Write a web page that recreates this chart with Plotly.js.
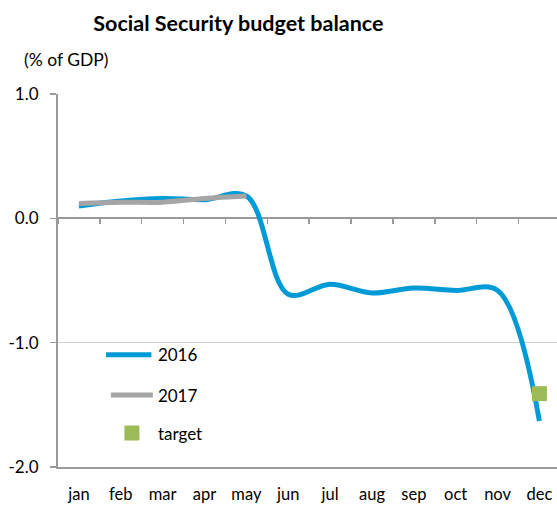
<!DOCTYPE html>
<html>
<head>
<meta charset="utf-8">
<script src="https://cdn.plot.ly/plotly-3.0.1.min.js"></script>
<style>html,body{margin:0;padding:0;background:#fff;overflow:hidden}#chart{width:557px;height:506px}</style>
</head>
<body>
<div id="chart"></div>
<script>
var months = ["jan","feb","mar","apr","may","jun","jul","aug","sep","oct","nov","dec"];
var values2016 = [0.10, 0.14, 0.16, 0.15, 0.18, -0.61, -0.53, -0.60, -0.56, -0.58, -0.58, -1.63];
var months2017 = ["jan","feb","mar","apr","may"];
var values2017 = [0.12, 0.13, 0.13, 0.16, 0.18];
var targetMonth = ["dec"];
var targetValue = [-1.41];
var yTickVals = [1, 0, -1, -2];
var yTickLabels = ["1.0", "0.0", "-1.0", "-2.0"];

var FONT = "Lato, 'Open Sans', sans-serif";
var GRAY = "#9a9a9a";

var traces = [
  {x: months, y: values2016, name: "2016", type: "scatter", mode: "lines",
   line: {color: "#009bd7", width: 5, shape: "spline", smoothing: 1}, legend: "legend", hoverinfo: "skip"},
  {x: months2017, y: values2017, name: "2017", type: "scatter", mode: "lines",
   line: {color: "#a5a5a5", width: 5, shape: "spline", smoothing: 1}, legend: "legend2", hoverinfo: "skip"},
  {x: targetMonth, y: targetValue, name: "target", type: "scatter", mode: "markers",
   marker: {color: "#9bbb59", symbol: "square", size: 15}, legend: "legend3", hoverinfo: "skip"},
  {x: months, y: months.map(function(){return 0;}), xaxis: "x2", type: "scatter", mode: "lines",
   line: {width: 0, color: "rgba(0,0,0,0)"}, showlegend: false, hoverinfo: "skip"}
];

var legendBase = {xref: "paper", yref: "paper", xanchor: "left", yanchor: "middle",
  bgcolor: "rgba(0,0,0,0)", font: {family: FONT, size: 17, color: "#000"}, itemwidth: 42};

var layout = {
  width: 557, height: 506,
  margin: {l: 58, r: 0, t: 94, b: 39},
  paper_bgcolor: "#fff", plot_bgcolor: "#fff",
  font: {family: FONT, size: 17, color: "#000"},
  title: {text: "<b>Social Security budget balance</b>", font: {family: FONT, size: 21.5, color: "#000"},
          xref: "container", x: 0.428, xanchor: "center", yref: "container", y: 0.954, yanchor: "middle"},
  xaxis: {type: "category", categoryorder: "array", categoryarray: months, range: [-0.5, 11.42],
          showline: true, linecolor: GRAY, linewidth: 2, ticks: "outside", ticklen: 11, tickcolor: "rgba(0,0,0,0)",
          showgrid: false, zeroline: false,
          tickfont: {family: FONT, size: 16.5, color: "#000"}, fixedrange: true},
  xaxis2: {type: "category", categoryorder: "array", categoryarray: months, range: [-0.5, 11.42],
           overlaying: "x", anchor: "free", position: 2/3, side: "bottom",
           ticks: "outside", tickson: "boundaries", ticklen: 5, tickwidth: 1.5, tickcolor: GRAY,
           showticklabels: false, showgrid: false, showline: false, zeroline: false, fixedrange: true},
  yaxis: {range: [-2, 1], tickmode: "array", tickvals: yTickVals, ticktext: yTickLabels,
          showgrid: true, gridcolor: "#cfcfcf", gridwidth: 1,
          zeroline: true, zerolinecolor: GRAY, zerolinewidth: 2,
          showline: true, linecolor: GRAY, linewidth: 2, ticks: "outside", ticklen: 6, tickcolor: GRAY, tickwidth: 1.5,
          ticklabelstandoff: 8,
          tickfont: {family: FONT, size: 17, color: "#000"}, fixedrange: true},
  legend: Object.assign({}, legendBase, {x: 0.096, y: 0.30}),
  legend2: Object.assign({}, legendBase, {x: 0.096, y: 0.192}),
  legend3: Object.assign({}, legendBase, {x: 0.096, y: 0.090}),
  annotations: [
    {text: "(% of GDP)", xref: "paper", yref: "paper", x: -0.0721, y: 1.0912, xanchor: "left", yanchor: "middle",
     showarrow: false, font: {family: FONT, size: 17.5, color: "#000"}}
  ],
  showlegend: true
};

Plotly.newPlot("chart", traces, layout, {staticPlot: true, displayModeBar: false}).then(function(gd){
  var paths = gd.querySelectorAll(".legend .legendlines path");
  paths.forEach(function(p){ p.setAttribute("d", "M-5.5,0h51"); });
});
</script>
</body>
</html>
